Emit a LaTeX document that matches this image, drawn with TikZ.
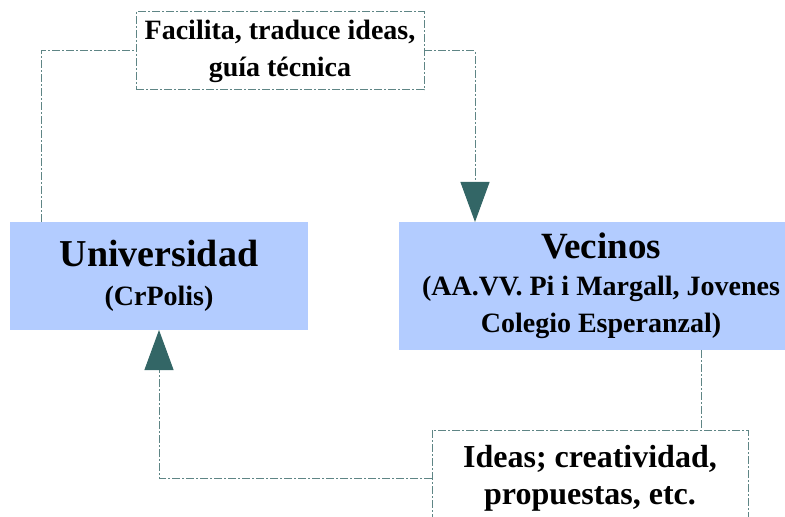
\documentclass[tikz,border=0pt]{standalone}
\usepackage{fontspec}
\setmainfont{Liberation Serif}
\usetikzlibrary{positioning, calc, arrows.meta}
\definecolor{boxblue}{HTML}{B3CCFF}
\definecolor{tipteal}{HTML}{336666}
\definecolor{linegrey}{HTML}{5E8585}
\tikzset{
	link/.style={
		draw=linegrey,
		line width=0.5pt,
		dash pattern=on 4pt off 1pt on 1pt off 1pt
	},
	edge/.style={link, -{Triangle[length=20pt, width=14.5pt, color=tipteal, fill=tipteal]}},
	actor/.style={
		rectangle,
		fill=boxblue,
		align=center,
		inner sep=0pt,
		outer sep=0pt
	},
	note/.style={
		rectangle,
		link,
		fill=white,
		align=center,
		inner sep=0pt,
		outer sep=0pt
	}
}

\begin{document}
\begin{tikzpicture}[x=0.5pt, y=-0.5pt, align=center]
	\path[use as bounding box, clip] (0,0) rectangle (785,517);
	
	\node[actor, minimum width=149pt, minimum height=54pt, font=\bfseries\fontsize{14}{19.5}\selectfont] (uni) at (159,276)
		{{\fontsize{19}{19.5}\selectfont Universidad}\\(CrPolis)};
	\node[actor, minimum width=202pt, minimum height=64pt, font=\bfseries\fontsize{14}{18.5}\selectfont,
		right=45.5pt of uni.north east, anchor=north west] (vec)
		{{\fontsize{18.5}{18.5}\selectfont Vecinos}\\(AA.VV. Pi i Margall, Jovenes\\Colegio Esperanzal)};
	
	\node[note, minimum width=144pt, minimum height=39pt, font=\bfseries\fontsize{14}{18.5}\selectfont] (fac) at (280,51)
		{Facilita, traduce ideas,\\guía técnica};
	\node[note, minimum width=158pt, minimum height=48pt, font=\bfseries\fontsize{16}{18.5}\selectfont,
		below=40pt of vec, xshift=-5.5pt] (ideas)
		{Ideas; creatividad,\\propuestas, etc.};
	
	\coordinate (vb) at ($(vec.south west)+(302,0)$);
	
	\draw[link] ($(uni.north west)+(31,0)$) |- (fac.west);
	\draw[edge] (fac.east) -| ($(vec.north west)+(76,0)$);
	\draw[link] (vb) -- (vb |- ideas.north);
	\draw[edge] (ideas.west) -| (uni.south);
\end{tikzpicture}
\end{document}
